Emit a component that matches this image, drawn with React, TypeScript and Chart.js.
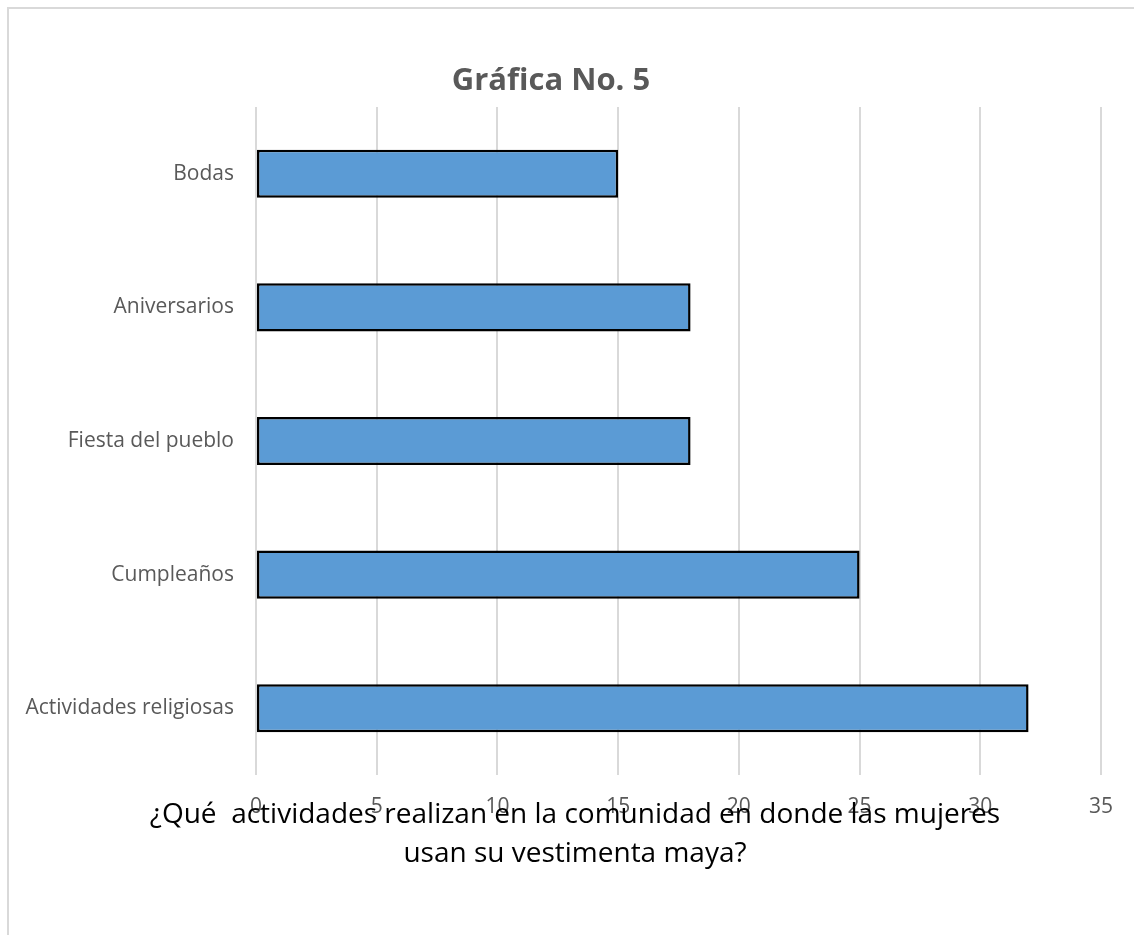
import React, { useEffect, useRef } from "react";
import { Chart, registerables } from "chart.js";

Chart.register(...registerables);

const categories = ["Bodas", "Aniversarios", "Fiesta del pueblo", "Cumpleaños", "Actividades religiosas"];
const values = [15, 18, 18, 25, 32];
const titleText = "Gráfica No. 5";
const captionLines = [
  "¿Qué  actividades realizan en la comunidad en donde las mujeres",
  "usan su vestimenta maya?",
];

const FONT = "'Open Sans', 'Noto Sans', sans-serif";

const textPlugin = {
  id: "textPlugin",
  afterDraw(chart: any) {
    const ctx = chart.ctx;
    ctx.save();
    ctx.fillStyle = "#595959";
    ctx.font = `bold 31px ${FONT}`;
    ctx.textAlign = "center";
    ctx.textBaseline = "alphabetic";
    ctx.fillText(titleText, 551, 90);
    ctx.fillStyle = "#000000";
    ctx.font = `28px ${FONT}`;
    ctx.fillText(captionLines[0], 575, 823);
    ctx.fillText(captionLines[1], 575, 862);
    ctx.restore();
  },
};

export default function App() {
  const ref = useRef<HTMLCanvasElement>(null);
  useEffect(() => {
    const chart = new Chart(ref.current!, {
      type: "bar",
      data: {
        labels: categories,
        datasets: [
          {
            data: values,
            backgroundColor: "#5B9BD5",
            borderColor: "#000000",
            borderWidth: 2.5,
            borderSkipped: false,
            barPercentage: 0.36,
            categoryPercentage: 1,
          },
        ],
      },
      options: {
        indexAxis: "y",
        responsive: false,
        animation: false,
        layout: { padding: { top: 107, left: 20, right: 33, bottom: 0 } },
        plugins: {
          legend: { display: false },
          title: { display: false },
          tooltip: { enabled: false },
        },
        scales: {
          x: {
            min: 0,
            max: 35,
            ticks: {
              stepSize: 5,
              color: "#595959",
              font: { family: FONT, size: 21 },
              padding: 19,
            },
            grid: { color: "#d9d9d9", lineWidth: 2, drawTicks: false },
            border: { display: false },
            afterFit: (scale: any) => {
              scale.height = 160;
            },
          },
          y: {
            ticks: {
              color: "#595959",
              font: { family: FONT, size: 21 },
              padding: 22,
            },
            grid: { display: false, drawTicks: false },
            border: { display: false },
            afterFit: (scale: any) => {
              scale.width = 236;
            },
          },
        },
      },
      plugins: [textPlugin],
    });
    return () => chart.destroy();
  }, []);

  return (
    <div style={{ position: "absolute", left: 0, top: 0, width: 1134, height: 935, overflow: "hidden", background: "#fff" }}>
      <div
        style={{
          position: "absolute",
          left: 7,
          top: 7,
          width: 1160,
          height: 960,
          border: "2px solid #d9d9d9",
          boxSizing: "border-box",
        }}
      />
      <canvas ref={ref} width={1134} height={935} style={{ position: "absolute", left: 0, top: 0 }} />
    </div>
  );
}
